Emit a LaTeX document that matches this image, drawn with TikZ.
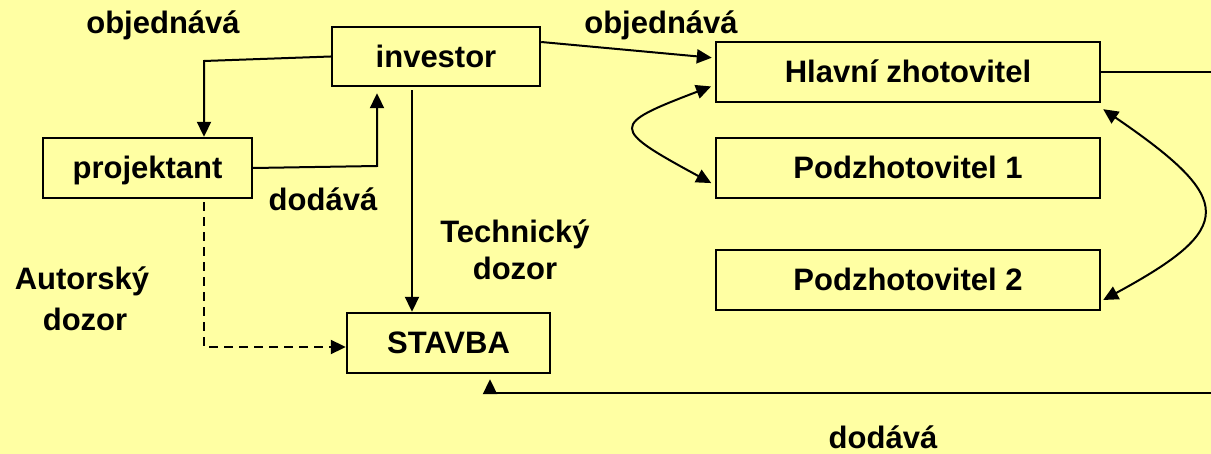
\documentclass[tikz,border=0pt]{standalone}
\usepackage{fontspec}
\setmainfont{Liberation Sans}
\usetikzlibrary{arrows.meta}
\definecolor{bg}{RGB}{255,255,163}
\begin{document}
\begin{tikzpicture}[x=1pt,y=-1pt,
  box/.style={draw,line width=2.4pt,inner sep=0pt,text height=22pt,text depth=0pt,font=\fontsize{31}{38}\selectfont\bfseries},
  lbl/.style={anchor=base,inner sep=0pt,font=\fontsize{31}{38}\selectfont\bfseries},
  arr/.style={line width=2pt,-{Triangle[length=15pt,width=14pt]}},
  darr/.style={line width=2pt,{Triangle[length=15pt,width=14pt]}-{Triangle[length=15pt,width=14pt]}}]
\useasboundingbox (0,0) rectangle (1211,454);
\fill[bg] (0,0) rectangle (1211,454);
% boxes
\node[box,minimum width=208pt,minimum height=59pt] (inv) at (436,56.5) {investor};
\node[box,minimum width=209pt,minimum height=60pt] (proj) at (147.5,168) {projektant};
\node[box,minimum width=384pt,minimum height=60pt] (hl) at (908,72) {Hlavní zhotovitel};
\node[box,minimum width=384pt,minimum height=60pt] (p1) at (908,168) {Podzhotovitel 1};
\node[box,minimum width=384pt,minimum height=60pt] (p2) at (908,280) {Podzhotovitel 2};
\node[box,minimum width=203pt,minimum height=60pt] (st) at (448.5,343) {STAVBA};
% connectors
\coordinate (c1) at (204,61);
\draw[arr] (inv.west) -- (c1) -- (c1 |- proj.north);
\coordinate (c2) at (377,166);
\draw[arr,shorten >=6pt] (proj.east) -- (c2) -- (c2 |- inv.south);
\coordinate (c3) at (412,89);
\draw[arr,shorten <=3pt] (inv.south -| c3) -- (c3 |- st.north);
\draw[arr,shorten >=3pt] ([yshift=14.5pt]inv.east) -- ([yshift=14pt]hl.west);
\draw[darr,shorten <=4pt,shorten >=4pt] ([yshift=-13pt]hl.west) .. controls (610,125) and (610,128) .. ([yshift=-17pt]p1.west);
\draw[darr] ([shift={(2pt,-6pt)}]hl.south east) .. controls (1236,200) and (1236,228) .. ([shift={(2pt,-20pt)}]p2.east);
\coordinate (e1) at (1211,72);
\draw[line width=1.6pt] (hl.east) -- (e1);
\coordinate (e2) at (1211,393);
\coordinate (c7) at (490,393);
\draw[arr,shorten >=5pt] (e2) -- (c7) -- (c7 |- st.south);
\coordinate (c8) at (204,347);
\draw[arr,dash pattern=on 9pt off 6pt] ([yshift=-3pt]proj.south -| c8) -- (c8) -- (c8 -| st.west);
% labels
\node[lbl] (l1) at (163,34) {objednává};
\node[lbl] (l2) at (661,34) {objednává};
\node[lbl] (l3) at (323,211) {dodává};
\node[lbl] (l4) at (515,243) {Technický};
\node[lbl] (l5) at (515,280) {dozor};
\node[lbl] (l6) at (82,290) {Autorský};
\node[lbl] (l7) at (85,331) {dozor};
\node[lbl] (l8) at (883,449) {dodává};
\end{tikzpicture}
\end{document}
